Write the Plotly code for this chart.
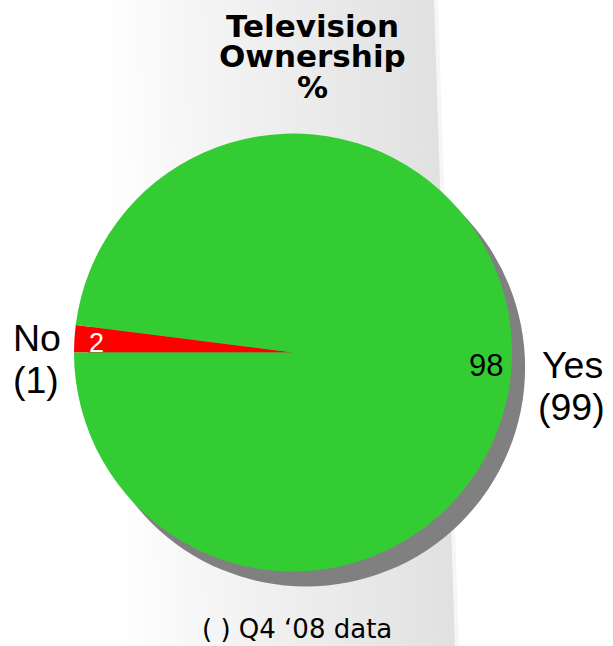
import plotly.graph_objects as go

W, H = 613, 646

# Data
labels = ["No", "Yes"]
values = [2, 98]            # current share, %
previous = [1, 99]          # Q4 '08 share, %
slice_colors = ["#FF0000", "#33CC33"]
value_font_colors = ["#FFFFFF", "#000000"]
title_lines = ["Television", "Ownership", "%"]
footnote = "( ) Q4 \u201808 data"


def px(x):
    return x / W


def py(y):
    return 1 - y / H


fig = go.Figure()

# Pie geometry (pixels)
cx0, cx1, cy0, cy1 = 74, 512, 133, 572
sdx, sdy = 13, 15

# Drop shadow behind the pie
fig.add_trace(go.Pie(
    values=[sum(values)], labels=["shadow"],
    marker=dict(colors=["#808080"], line=dict(width=0)),
    textinfo="none", hoverinfo="skip", sort=False, showlegend=False,
    domain=dict(x=[px(cx0 + sdx), px(cx1 + sdx)], y=[py(cy1 + sdy), py(cy0 + sdy)]),
))

# Main pie
fig.add_trace(go.Pie(
    values=values, labels=labels,
    marker=dict(colors=slice_colors, line=dict(width=0)),
    textinfo="none", hoverinfo="label+value", sort=False, showlegend=False,
    direction="clockwise", rotation=270,
    domain=dict(x=[px(cx0), px(cx1)], y=[py(cy1), py(cy0)]),
))

# Background band: soft horizontal gradient with a slanted right edge
shapes = []
band_left, band_right, slant = 105, 434, 21
n = 48
for i in range(n):
    t0, t1 = i / n, (i + 1) / n
    xa = band_left + (band_right - band_left) * t0
    xb = band_left + (band_right - band_left) * t1
    g = int(round(255 - 30 * ((t0 + t1) / 2) ** 0.85))
    col = f"rgb({g},{g},{g})"
    path = (f"M {px(xa)},{py(0)} L {px(xb + 0.6)},{py(0)} "
            f"L {px(xb + 0.6 + slant)},{py(H)} L {px(xa + slant)},{py(H)} Z")
    shapes.append(dict(type="path", path=path, xref="paper", yref="paper",
                       fillcolor=col, line=dict(width=0), layer="below"))
# faint rim just past the edge
path = (f"M {px(band_right)},{py(0)} L {px(band_right + 4)},{py(0)} "
        f"L {px(band_right + 4 + slant)},{py(H)} L {px(band_right + slant)},{py(H)} Z")
shapes.append(dict(type="path", path=path, xref="paper", yref="paper",
                   fillcolor="rgb(246,246,246)", line=dict(width=0), layer="below"))

annotations = []


def text(x, y, s, size, family="Liberation Sans, Arial, sans-serif", color="#000000",
         height=None):
    ann = dict(x=px(x), y=py(y), xref="paper", yref="paper",
               text=s, showarrow=False, xanchor="center", yanchor="middle",
               font=dict(size=size, family=family, color=color))
    if height is not None:
        ann.update(height=height, borderpad=0)
    annotations.append(ann)


# Title (tightly stacked lines)
title_y = [26, 56, 86.5]
title_h = [28, 32, 28]
for line, y, h in zip(title_lines, title_y, title_h):
    text(312, y, f"<b>{line}</b>", 31, family="DejaVu Sans, Verdana, sans-serif",
         height=h)

# Values inside slices
text(96.5, 342.5, str(values[0]), 27, color=value_font_colors[0])
text(486, 365, str(values[1]), 31, color=value_font_colors[1])

# Category labels with previous-quarter values
text(37, 337.5, labels[0], 37.5)
text(36, 379.5, f"({previous[0]})", 37.5)
text(572, 365, labels[1], 37.5)
text(571, 407, f"({previous[1]})", 37.5)

# Footnote
text(297, 629, footnote, 26, family="DejaVu Sans, Verdana, sans-serif")

fig.update_layout(
    width=W, height=H,
    margin=dict(l=0, r=0, t=0, b=0),
    paper_bgcolor="#FFFFFF", plot_bgcolor="#FFFFFF",
    shapes=shapes, annotations=annotations,
    showlegend=False,
)

fig.write_html("out.html")
